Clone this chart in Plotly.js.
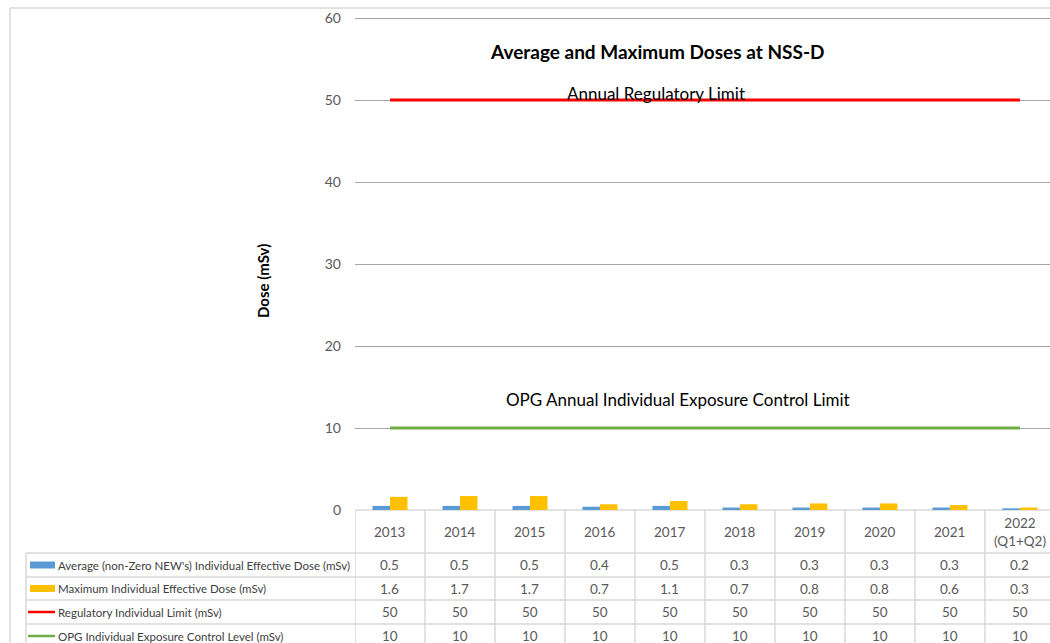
<!DOCTYPE html>
<html>
<head>
<meta charset="utf-8">
<script src="https://cdn.plot.ly/plotly-3.0.1.min.js"></script>
<style>html,body{margin:0;padding:0;overflow:hidden;background:#fff;}</style>
</head>
<body>
<div id="chart" style="width:1050px;height:643px;"></div>
<script>
// ---- data ----
const categories = ['2013','2014','2015','2016','2017','2018','2019','2020','2021','2022<br>(Q1+Q2)'];
const avgDose = [0.5,0.5,0.5,0.4,0.5,0.3,0.3,0.3,0.3,0.2];
const maxDose = [1.6,1.7,1.7,0.7,1.1,0.7,0.8,0.8,0.6,0.3];
const regLimit = [50,50,50,50,50,50,50,50,50,50];
const opgLimit = [10,10,10,10,10,10,10,10,10,10];
const seriesNames = [
  "Average (non-Zero NEW's) Individual Effective Dose (mSv)",
  "Maximum Individual Effective Dose (mSv)",
  "Regulatory Individual Limit (mSv)",
  "OPG Individual Exposure Control Level (mSv)"
];
const seriesValues = [avgDose, maxDose, regLimit, opgLimit];

// ---- layout helpers ----
const W = 1050, H = 643;
const px = x => x / W;
const py = y => 1 - y / H;
const cBlue = '#5B9BD5', cGold = '#FFC000', cRed = '#FF0000', cGreen = '#70AD47';
const border = '#D9D9D9';
const txtGray = '#595959';
const FONT = 'Lato, "Open Sans", sans-serif';

const rowEdges = [510, 553, 577, 600, 624, 648]; // header + 4 rows
const rowCenter = i => (rowEdges[i] + rowEdges[i+1]) / 2;

const traces = [
  {type:'bar', x:categories, y:avgDose, name:seriesNames[0], marker:{color:cBlue}},
  {type:'bar', x:categories, y:maxDose, name:seriesNames[1], marker:{color:cGold}},
  {type:'scatter', mode:'lines', x:categories, y:regLimit, name:seriesNames[2], line:{color:cRed, width:3}},
  {type:'scatter', mode:'lines', x:categories, y:opgLimit, name:seriesNames[3], line:{color:cGreen, width:3}}
];

const shapes = [];
const annotations = [];

// outer chart border (top, left)
shapes.push({type:'line', xref:'paper', yref:'paper', x0:px(10), x1:1, y0:py(8), y1:py(8), line:{color:border, width:1.5}});
shapes.push({type:'line', xref:'paper', yref:'paper', x0:px(10), x1:px(10), y0:py(8), y1:0, line:{color:border, width:1.5}});

// table horizontal lines
shapes.push({type:'line', xref:'paper', yref:'paper', x0:px(355), x1:1, y0:py(rowEdges[0]), y1:py(rowEdges[0]), line:{color:border, width:1.5}, layer:'below'});
for (let i = 1; i < rowEdges.length - 1; i++) {
  shapes.push({type:'line', xref:'paper', yref:'paper', x0:px(26), x1:1, y0:py(rowEdges[i]), y1:py(rowEdges[i]), line:{color:border, width:1.5}});
}
// table vertical lines
shapes.push({type:'line', xref:'paper', yref:'paper', x0:px(26), x1:px(26), y0:py(rowEdges[1]), y1:0, line:{color:border, width:1.5}});
for (let i = 0; i <= categories.length; i++) {
  shapes.push({type:'line', xref:'x', yref:'paper', x0:i-0.5, x1:i-0.5, y0:py(rowEdges[0]), y1:0, line:{color:border, width:1.5}});
}

// category header cells
categories.forEach((c, i) => {
  annotations.push({xref:'x', yref:'paper', x:i, y:py(rowCenter(0)), text:c, showarrow:false,
    font:{family:FONT, size:13.5, color:txtGray}, xanchor:'center', yanchor:'middle'});
});
// value cells
seriesValues.forEach((vals, r) => {
  vals.forEach((v, i) => {
    annotations.push({xref:'x', yref:'paper', x:i, y:py(rowCenter(r+1)), text:String(v), showarrow:false,
      font:{family:FONT, size:13.5, color:txtGray}, xanchor:'center', yanchor:'middle'});
  });
});
// legend keys + labels
const keyColors = [cBlue, cGold, cRed, cGreen];
seriesNames.forEach((n, r) => {
  const yc = rowCenter(r+1);
  if (r < 2) {
    shapes.push({type:'rect', xref:'paper', yref:'paper', x0:px(30), x1:px(55), y0:py(yc-3.5), y1:py(yc+3.5), fillcolor:keyColors[r], line:{width:0}});
  } else {
    shapes.push({type:'line', xref:'paper', yref:'paper', x0:px(28), x1:px(55), y0:py(yc), y1:py(yc), line:{color:keyColors[r], width:2.5}});
  }
  annotations.push({xref:'paper', yref:'paper', x:px(56), y:py(yc), text:n, showarrow:false,
    font:{family:FONT, size:11.5, color:'#404040'}, xanchor:'left', yanchor:'middle'});
});

// chart title & labels
annotations.push({xref:'paper', yref:'paper', x:px(657), y:py(52), text:'<b>Average and Maximum Doses at NSS-D</b>', showarrow:false,
  font:{family:FONT, size:19, color:'#000'}, xanchor:'center', yanchor:'middle'});
annotations.push({xref:'paper', yref:'paper', x:px(263), y:py(281), text:'<b>Dose (mSv)</b>', textangle:-90, showarrow:false,
  font:{family:FONT, size:15, color:'#000'}, xanchor:'center', yanchor:'middle'});
annotations.push({xref:'paper', yref:'y', x:px(656), y:50, yshift:7, text:'Annual Regulatory Limit', showarrow:false,
  font:{family:FONT, size:17, color:'#000'}, xanchor:'center', yanchor:'middle'});
annotations.push({xref:'paper', yref:'y', x:px(678), y:10, yshift:29, text:'OPG Annual Individual Exposure Control Limit', showarrow:false,
  font:{family:FONT, size:17, color:'#000'}, xanchor:'center', yanchor:'middle'});

const layout = {
  width: W, height: H,
  margin: {l:0, r:0, t:0, b:0, pad:0},
  paper_bgcolor:'#fff', plot_bgcolor:'#fff',
  showlegend:false,
  barmode:'group', bargap:0.5, bargroupgap:0,
  xaxis: {type:'category', categoryorder:'array', categoryarray:categories,
          domain:[px(355), 1], range:[-0.5, 9.43], showticklabels:false, showgrid:false, zeroline:false, showline:false, fixedrange:true},
  yaxis: {domain:[py(510), py(16.4)], range:[0, 60.2], tickmode:'linear', tick0:0, dtick:10, showgrid:true, gridcolor:'#A6A6A6', gridwidth:1,
          zeroline:false, showline:false, ticks:'', ticklabelstandoff:13,
          tickfont:{family:FONT, size:14, color:txtGray}, fixedrange:true},
  shapes: shapes,
  annotations: annotations
};

Plotly.newPlot('chart', traces, layout, {displayModeBar:false, staticPlot:true});
</script>
</body>
</html>
